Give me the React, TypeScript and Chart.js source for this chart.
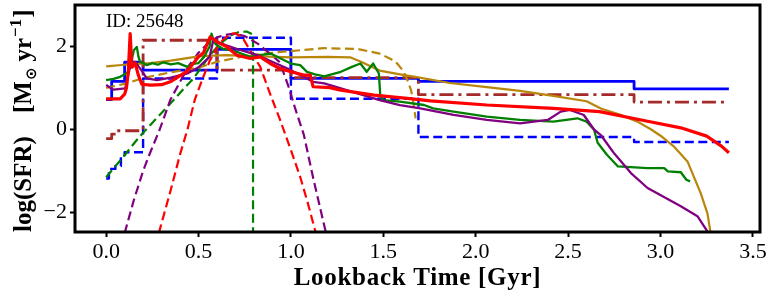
import React, { useEffect, useRef } from 'react';
import { Chart, registerables } from 'chart.js';

Chart.register(...registerables);

// ---------- tick definitions ----------
const xTickValues = [0, 0.5, 1, 1.5, 2, 2.5, 3, 3.5];
const xTickLabels = ['0.0', '0.5', '1.0', '1.5', '2.0', '2.5', '3.0', '3.5'];
const yTickValues = [-2, 0, 2];
const yTickLabels = ['\u22122', '0', '2'];

// ---------- series (lookback time in Gyr, log SFR) ----------
// non-parametric step histories (value holds from edge to next edge)
const blueSolidX = [0, 0.03, 0.1, 0.2, 0.6, 1.0, 1.69, 2.857, 3.37];
const blueSolidY = [0.72, 1.16, 1.62, 1.43, 1.93, 1.23, 1.16, 0.98, 0.98];

const blueDashX = [0, 0.015, 0.05, 0.08, 0.1, 0.2, 0.6, 1.0, 1.69, 2.857, 3.37];
const blueDashY = [-1.18, -0.95, -0.88, -0.62, -0.55, 1.23, 2.21, 0.74, -0.18, -0.3, -0.3];

const brownX = [0, 0.03, 0.06, 0.2, 0.6, 1.0, 1.69, 2.857, 3.37];
const brownY = [-0.22, -0.11, -0.03, 2.15, 1.43, 1.25, 0.84, 0.66, 0.66];

// gold
const goldSolidX = [0, 0.1, 0.24, 0.35, 0.51, 0.65, 0.8, 1.0, 1.2, 1.32, 1.376, 1.48, 1.59, 1.68, 1.86, 2.06, 2.24, 2.42, 2.6, 2.68, 2.78, 2.875, 2.95, 3.0, 3.07, 3.146, 3.218, 3.254, 3.275];
const goldSolidY = [1.52, 1.56, 1.6, 1.66, 1.77, 1.79, 1.77, 1.74, 1.75, 1.74, 1.64, 1.42, 1.33, 1.26, 1.12, 1.02, 0.93, 0.81, 0.68, 0.5, 0.36, 0.19, 0.0, -0.15, -0.4, -0.77, -1.54, -2.02, -2.6];

const goldDashX = [0, 0.1, 0.2, 0.35, 0.5, 0.6, 0.75, 0.9, 1.0, 1.18, 1.36, 1.48, 1.54, 1.575, 1.61, 1.63, 1.65, 1.66, 1.675];
const goldDashY = [1.0, 1.1, 1.24, 1.38, 1.49, 1.63, 1.77, 1.85, 1.89, 1.96, 1.94, 1.83, 1.7, 1.59, 1.4, 1.19, 0.95, 0.72, 0.27];

// green
const greenSolidX = [0, 0.04, 0.076, 0.1, 0.12, 0.135, 0.15, 0.166, 0.175, 0.184, 0.2, 0.22, 0.25, 0.28, 0.31, 0.35, 0.39, 0.44, 0.47, 0.5, 0.53, 0.56, 0.57, 0.585, 0.6, 0.63, 0.67, 0.72, 0.78, 0.84, 0.89, 0.95, 1.0, 1.05, 1.087, 1.13, 1.18, 1.22, 1.27, 1.33, 1.376, 1.41, 1.445, 1.476, 1.484, 1.5, 1.59, 1.72, 1.77, 1.88, 2.06, 2.24, 2.42, 2.55, 2.6, 2.64, 2.66, 2.71, 2.77, 2.93, 3.02, 3.04, 3.11, 3.14, 3.16];
const greenSolidY = [1.19, 1.22, 1.27, 1.33, 1.39, 1.6, 1.91, 1.99, 1.75, 1.63, 1.6, 1.55, 1.6, 1.56, 1.62, 1.57, 1.6, 1.51, 1.58, 1.6, 1.75, 2.0, 2.31, 2.1, 2.03, 1.95, 1.91, 1.85, 1.75, 1.8, 1.83, 1.7, 1.59, 1.55, 1.39, 1.33, 1.28, 1.33, 1.39, 1.51, 1.59, 1.39, 1.59, 1.35, 0.79, 0.71, 0.67, 0.59, 0.51, 0.43, 0.31, 0.23, 0.19, 0.27, 0.19, 0.0, -0.32, -0.61, -0.89, -0.93, -0.93, -1.01, -1.03, -1.21, -1.25];

const greenDashX = [0, 0.1, 0.157, 0.2, 0.3, 0.365, 0.42, 0.47, 0.52, 0.56, 0.6, 0.64, 0.68, 0.72, 0.76, 0.79, 0.795, 0.795];
const greenDashY = [-1.15, -0.62, -0.3, -0.08, 0.4, 0.71, 0.98, 1.22, 1.52, 1.78, 1.98, 2.15, 2.28, 2.35, 2.36, 2.3, 2.2, -6];

// purple
const purpleSolidX = [0, 0.04, 0.103, 0.13, 0.157, 0.19, 0.22, 0.275, 0.35, 0.44, 0.5, 0.56, 0.58, 0.65, 0.73, 0.82, 0.92, 1.0, 1.12, 1.18, 1.36, 1.48, 1.59, 1.7, 1.88, 2.06, 2.24, 2.39, 2.46, 2.51, 2.585, 2.64, 2.68, 2.75, 2.84, 2.93, 3.11, 3.2, 3.275];
const purpleSolidY = [1.07, 0.96, 0.99, 1.52, 1.63, 1.43, 1.23, 1.19, 1.25, 1.35, 1.5, 1.75, 2.15, 2.03, 1.91, 1.79, 1.59, 1.43, 1.15, 1.11, 0.87, 0.71, 0.59, 0.51, 0.35, 0.23, 0.15, 0.23, 0.43, 0.47, 0.35, 0.0, -0.15, -0.58, -1.05, -1.41, -1.85, -2.09, -2.6];

const purpleDashX = [0.1, 0.15, 0.2, 0.23, 0.29, 0.347, 0.4, 0.45, 0.5, 0.55, 0.6, 0.645, 0.69, 0.75, 0.82, 0.88, 0.94, 0.99, 1.02, 1.07, 1.123, 1.19];
const purpleDashY = [-2.5, -1.7, -1.0, -0.65, 0.0, 0.71, 1.15, 1.55, 1.85, 2.07, 2.22, 2.28, 2.31, 2.25, 2.07, 1.85, 1.62, 1.0, 0.55, -0.13, -1.22, -2.5];

// red
const redSolidX = [0, 0.076, 0.1, 0.11, 0.12, 0.13, 0.14, 0.157, 0.175, 0.193, 0.24, 0.3, 0.347, 0.437, 0.5, 0.527, 0.563, 0.6, 0.654, 0.708, 0.78, 0.834, 0.888, 0.94, 1.0, 1.07, 1.105, 1.12, 1.21, 1.27, 1.45, 1.63, 1.755, 2.06, 2.42, 2.67, 2.93, 3.11, 3.25, 3.33, 3.37];
const redSolidY = [0.74, 0.74, 0.85, 1.0, 1.4, 2.31, 1.5, 1.6, 1.3, 1.09, 1.07, 1.08, 1.15, 1.4, 1.75, 1.85, 2.23, 2.11, 1.99, 1.79, 1.71, 1.75, 1.59, 1.47, 1.39, 1.31, 1.31, 1.03, 1.01, 0.95, 0.83, 0.75, 0.69, 0.59, 0.51, 0.43, 0.2, 0.04, -0.16, -0.4, -0.56];

const redDashX = [0.285, 0.35, 0.4, 0.44, 0.48, 0.52, 0.56, 0.6, 0.63, 0.67, 0.7, 0.74, 0.78, 0.834, 0.888, 0.94, 0.96, 1.0, 1.05, 1.09, 1.135];
const redDashY = [-2.5, -1.45, -0.6, 0.0, 0.72, 1.2, 1.65, 1.97, 2.15, 2.3, 2.32, 2.2, 1.9, 1.51, 0.85, 0.25, 0.0, -0.5, -1.14, -1.75, -2.5];

const pts = (xs: number[], ys: number[]) => xs.map((x, i) => ({ x, y: ys[i] }));

const DASH = [9, 4.5];
const DASHDOT = [14, 5, 3, 5];

const overlay = {
  id: 'overlay',
  afterDraw(chart: any) {
    const { ctx, chartArea: a } = chart;
    ctx.save();
    // frame
    ctx.strokeStyle = '#000';
    ctx.lineWidth = 3;
    ctx.strokeRect(a.left, a.top, a.right - a.left, a.bottom - a.top);

    ctx.fillStyle = '#000';
    // ID annotation
    ctx.font = '19px "Liberation Serif"';
    ctx.textAlign = 'left';
    ctx.textBaseline = 'alphabetic';
    ctx.fillText('ID: 25648', 106, 26.5);

    // x title
    ctx.font = 'bold 25px "Liberation Serif"';
    (ctx as any).letterSpacing = '0.7px';
    ctx.textAlign = 'center';
    ctx.fillText('Lookback Time [Gyr]', (a.left + a.right) / 2, 285);
    (ctx as any).letterSpacing = '0px';

    // y title (rotated)
    ctx.translate(31, 232);
    ctx.rotate(-Math.PI / 2);
    ctx.textAlign = 'left';
    const big = 'bold 25px "Liberation Serif"';
    const small = 'bold 17px "Liberation Serif"';
    ctx.font = big;
    ctx.fillText('log(SFR)', 0, 0);
    let p = 119;
    ctx.fillText('[M', p, 0);
    p += ctx.measureText('[M').width;
    ctx.font = 'bold 15px "DejaVu Sans"';
    ctx.fillText('\u2299', p + 1, 5);
    p += ctx.measureText('\u2299').width + 7;
    ctx.font = big;
    ctx.fillText('yr', p, 0);
    p += ctx.measureText('yr').width + 1;
    ctx.font = small;
    ctx.fillText('\u22121', p, -10);
    p += ctx.measureText('\u22121').width + 1;
    ctx.font = big;
    ctx.fillText(']', p, 0);
    ctx.restore();
  },
};

export default function App() {
  const ref = useRef<HTMLCanvasElement | null>(null);
  useEffect(() => {
    if (!ref.current) return;
    const mk = (label: string, xs: number[], ys: number[], color: string, width: number, dash: number[], order: number, stepped = false) => ({
      label,
      data: pts(xs, ys),
      borderColor: color,
      backgroundColor: color,
      borderWidth: width,
      borderDash: dash,
      borderJoinStyle: 'round' as const,
      stepped,
      order,
      pointRadius: 0,
      fill: false,
      tension: 0,
    });
    const chart = new Chart(ref.current, {
      type: 'line',
      data: {
        datasets: [
          mk('red', redSolidX, redSolidY, '#ff0000', 3.2, [], 0),
          mk('purple', purpleSolidX, purpleSolidY, '#800080', 2.3, [], 1),
          mk('green', greenSolidX, greenSolidY, '#008000', 2.3, [], 2),
          mk('gold', goldSolidX, goldSolidY, '#b8860b', 2.2, [], 3),
          mk('red model', redDashX, redDashY, '#ff0000', 2.2, DASH, 4),
          mk('purple model', purpleDashX, purpleDashY, '#800080', 2.2, DASH, 5),
          mk('green model', greenDashX, greenDashY, '#008000', 2.2, DASH, 6),
          mk('gold model', goldDashX, goldDashY, '#b8860b', 2.2, DASH, 7),
          mk('brown', brownX, brownY, '#a52a2a', 2.8, DASHDOT, 8, true),
          mk('blue dashed', blueDashX, blueDashY, '#0000ff', 2.4, DASH, 9, true),
          mk('blue', blueSolidX, blueSolidY, '#0000ff', 2.8, [], 10, true),
        ],
      },
      options: {
        animation: false,
        responsive: false,
        maintainAspectRatio: false,
        devicePixelRatio: 1,
        layout: { padding: { top: 5, right: 13, left: 0, bottom: 0 } },
        plugins: { legend: { display: false }, tooltip: { enabled: false } },
        scales: {
          x: {
            type: 'linear',
            min: -0.1685,
            max: 3.5385,
            afterBuildTicks: (s: any) => { s.ticks = xTickValues.map((v) => ({ value: v })); },
            afterFit: (s: any) => { s.height = 66; s.paddingLeft = 0; s.paddingRight = 0; },
            ticks: {
              callback: (_v: any, i: number) => xTickLabels[i],
              font: { family: 'Liberation Serif', size: 22 },
              color: '#000',
              padding: 2,
              maxRotation: 0,
              autoSkip: false,
            },
            grid: { drawOnChartArea: false, drawTicks: true, tickLength: 5, tickWidth: 2, tickColor: '#000' },
            border: { display: false },
          },
          y: {
            type: 'linear',
            min: -2.47,
            max: 3.0,
            afterBuildTicks: (s: any) => { s.ticks = yTickValues.map((v) => ({ value: v })); },
            afterFit: (s: any) => { s.width = 75; s.paddingTop = 0; s.paddingBottom = 0; },
            ticks: {
              callback: (_v: any, i: number) => yTickLabels[i],
              font: { family: 'Liberation Serif', size: 22 },
              color: '#000',
              padding: 3,
              autoSkip: false,
            },
            grid: { drawOnChartArea: false, drawTicks: true, tickLength: 5, tickWidth: 2, tickColor: '#000' },
            border: { display: false },
          },
        },
      },
      plugins: [overlay],
    } as any);
    return () => chart.destroy();
  }, []);
  return (
    <div style={{ position: 'absolute', left: 0, top: 0, width: 773, height: 298, background: '#fff' }}>
      <canvas ref={ref} width={773} height={298} style={{ display: 'block' }} />
    </div>
  );
}
